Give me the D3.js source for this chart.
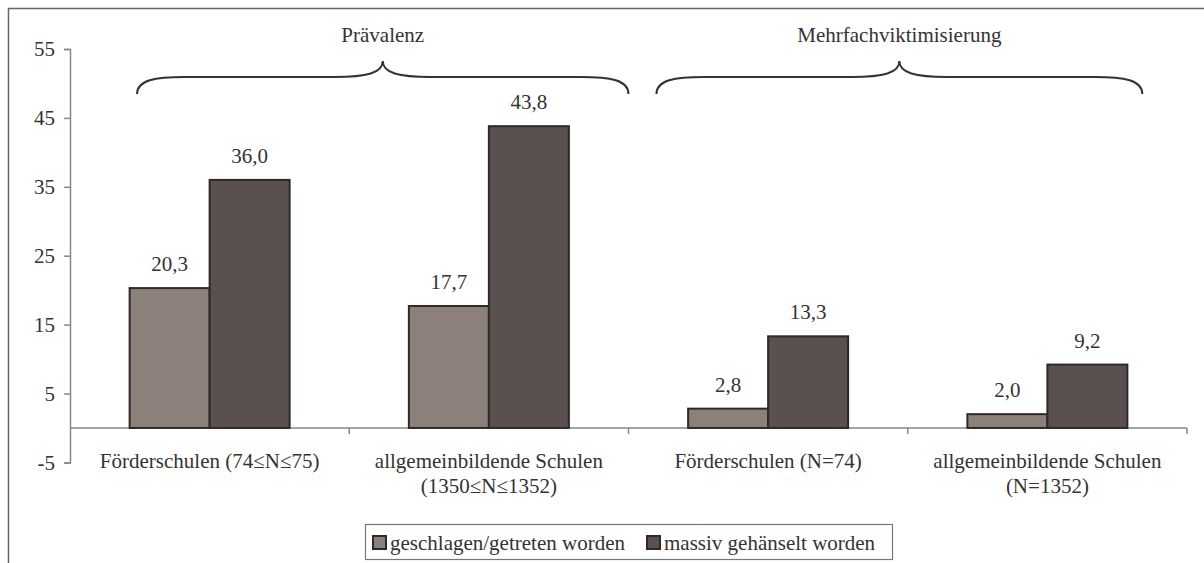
<!DOCTYPE html>
<html>
<head>
<meta charset="utf-8">
<script src="https://cdn.jsdelivr.net/npm/d3@7"></script>
<style>
  body { margin: 0; background: #fff; }
</style>
</head>
<body>
<div id="chart"></div>
<script>
var categories = ["Förderschulen (74≤N≤75)", "allgemeinbildende Schulen (1350≤N≤1352)", "Förderschulen (N=74)", "allgemeinbildende Schulen (N=1352)"];
var categoryLines = [["Förderschulen (74≤N≤75)"], ["allgemeinbildende Schulen", "(1350≤N≤1352)"], ["Förderschulen (N=74)"], ["allgemeinbildende Schulen", "(N=1352)"]];
var seriesNames = ["geschlagen/getreten worden", "massiv gehänselt worden"];
var geschlagen = [20.3, 17.7, 2.8, 2.0];
var gehaenselt = [36.0, 43.8, 13.3, 9.2];
var yTicks = [-5, 5, 15, 25, 35, 45, 55];
var groupLabels = ["Prävalenz", "Mehrfachviktimisierung"];

var W = 1204, H = 563;
var FONT = "'Liberation Serif', 'Times New Roman', Times, 'DejaVu Serif', serif";
var FS = "21px";
var colors = ["#8c807b", "#5a504d"];
var stroke = "#2e2a29";

var svg = d3.select("#chart").append("svg")
    .attr("width", W)
    .attr("height", H)
    .style("font-family", FONT);

// outer frame (cut off on right and bottom)
svg.append("rect")
    .attr("x", 8.5).attr("y", 8.5)
    .attr("width", W + 10).attr("height", H + 10)
    .style("fill", "none")
    .style("stroke", "#666")
    .style("stroke-width", 1.5);

var x = d3.scaleBand().domain(categories).range([70, 1187]);
var y = d3.scaleLinear().domain([-5, 55]).range([462.4, 49]);
var barW = 80;

// y axis
var yAxis = svg.append("g")
    .attr("transform", "translate(70,0)")
    .call(d3.axisLeft(y).tickValues(yTicks).tickSize(6).tickPadding(9).tickFormat(function(d){ return String(d); }));
yAxis.attr("font-family", null);
yAxis.select(".domain").style("stroke", "#888").style("stroke-width", 1.5);
yAxis.selectAll("line").style("stroke", "#888").style("stroke-width", 1.5);
yAxis.selectAll("text").style("font-size", FS).style("font-family", FONT).style("fill", "#333");

// x axis at zero
var xAxisG = svg.append("g").attr("transform", "translate(0," + y(0) + ")");
xAxisG.append("line")
    .attr("x1", x.range()[0]).attr("x2", x.range()[1])
    .style("stroke", "#888").style("stroke-width", 1.5);
var tickXs = categories.map(function(c){ return x(c); }).concat([x.range()[1]]);
xAxisG.selectAll("line.tk")
    .data(tickXs.slice(1)).enter()
  .append("line")
    .attr("class", "tk")
    .attr("x1", function(d){ return d; }).attr("x2", function(d){ return d; })
    .attr("y1", 0).attr("y2", 6)
    .style("stroke", "#888").style("stroke-width", 1.5);

// category labels
var catLabel = svg.append("g").selectAll("text")
    .data(categoryLines).enter()
  .append("text")
    .attr("text-anchor", "middle")
    .style("font-family", FONT)
    .style("fill", "#333")
    .style("font-size", FS);
catLabel.each(function(lines, i){
  var cx = x(categories[i]) + x.bandwidth() / 2;
  d3.select(this).selectAll("tspan")
      .data(lines).enter()
    .append("tspan")
      .attr("x", cx)
      .attr("y", function(d, j){ return 468 + j * 25; })
      .text(function(d){ return d; });
});

// bars
var series = [geschlagen, gehaenselt];
series.forEach(function(vals, s){
  var g = svg.append("g");
  g.selectAll("rect")
      .data(vals).enter()
    .append("rect")
      .attr("x", function(d, i){ return x(categories[i]) + x.bandwidth() / 2 - barW + s * barW; })
      .attr("y", function(d){ return y(d); })
      .attr("width", barW)
      .attr("height", function(d){ return y(0) - y(d); })
      .style("fill", colors[s])
      .style("stroke", stroke)
      .style("stroke-width", 2);
  g.selectAll("text")
      .data(vals).enter()
    .append("text")
      .attr("x", function(d, i){ return x(categories[i]) + x.bandwidth() / 2 - barW / 2 + s * barW; })
      .attr("y", function(d){ return y(d) - 17; })
      .attr("text-anchor", "middle")
      .style("font-family", FONT)
      .style("fill", "#333")
      .style("font-size", FS)
      .text(function(d){ return d3.format(".1f")(d).replace(".", ","); });
});

// braces with group titles
var bw = x.bandwidth(), x0 = x.range()[0];
var braces = [
  {label: groupLabels[0], from: x0 + 0.24 * bw, tip: x0 + 1.12 * bw, to: x0 + 2.0 * bw},
  {label: groupLabels[1], from: x0 + 2.1 * bw, tip: x0 + 2.97 * bw, to: x0 + 3.84 * bw}
];
function bracePath(b){
  var yEnd = 94, yMid = 77, yTip = 61;
  return "M" + b.from + "," + yEnd +
    " C" + b.from + "," + (yMid + 3) + " " + (b.from + 18) + "," + yMid + " " + (b.from + 48) + "," + yMid +
    " L" + (b.tip - 48) + "," + yMid +
    " C" + (b.tip - 16) + "," + yMid + " " + b.tip + "," + (yMid - 4) + " " + b.tip + "," + yTip +
    " C" + b.tip + "," + (yMid - 4) + " " + (b.tip + 16) + "," + yMid + " " + (b.tip + 48) + "," + yMid +
    " L" + (b.to - 48) + "," + yMid +
    " C" + (b.to - 18) + "," + yMid + " " + b.to + "," + (yMid + 3) + " " + b.to + "," + yEnd;
}
var bg = svg.append("g");
bg.selectAll("path")
    .data(braces).enter()
  .append("path")
    .attr("d", bracePath)
    .style("fill", "none")
    .style("stroke", "#333")
    .style("stroke-width", 2);
bg.selectAll("text")
    .data(braces).enter()
  .append("text")
    .attr("x", function(d){ return d.tip; })
    .attr("y", 42)
    .attr("text-anchor", "middle")
    .style("font-family", FONT)
    .style("fill", "#333")
    .style("font-size", FS)
    .text(function(d){ return d.label; });

// legend
var legend = svg.append("g").attr("transform", "translate(365,524)");
legend.append("rect")
    .attr("x", 0.5).attr("y", 0.5)
    .attr("width", 527).attr("height", 35)
    .style("fill", "#fff")
    .style("stroke", "#777")
    .style("stroke-width", 1.2);
var offs = [7, 281];
var items = legend.selectAll("g.item")
    .data(seriesNames).enter()
  .append("g")
    .attr("class", "item")
    .attr("transform", function(d, i){ return "translate(" + offs[i] + ",0)"; });
items.append("rect")
    .attr("x", 1).attr("y", 12)
    .attr("width", 13).attr("height", 13)
    .style("fill", function(d, i){ return colors[i]; })
    .style("stroke", stroke)
    .style("stroke-width", 2);
items.append("text")
    .attr("x", 18)
    .attr("y", 26)
    .style("font-family", FONT)
    .style("fill", "#333")
    .style("font-size", FS)
    .text(function(d){ return d; });
</script>
</body>
</html>
